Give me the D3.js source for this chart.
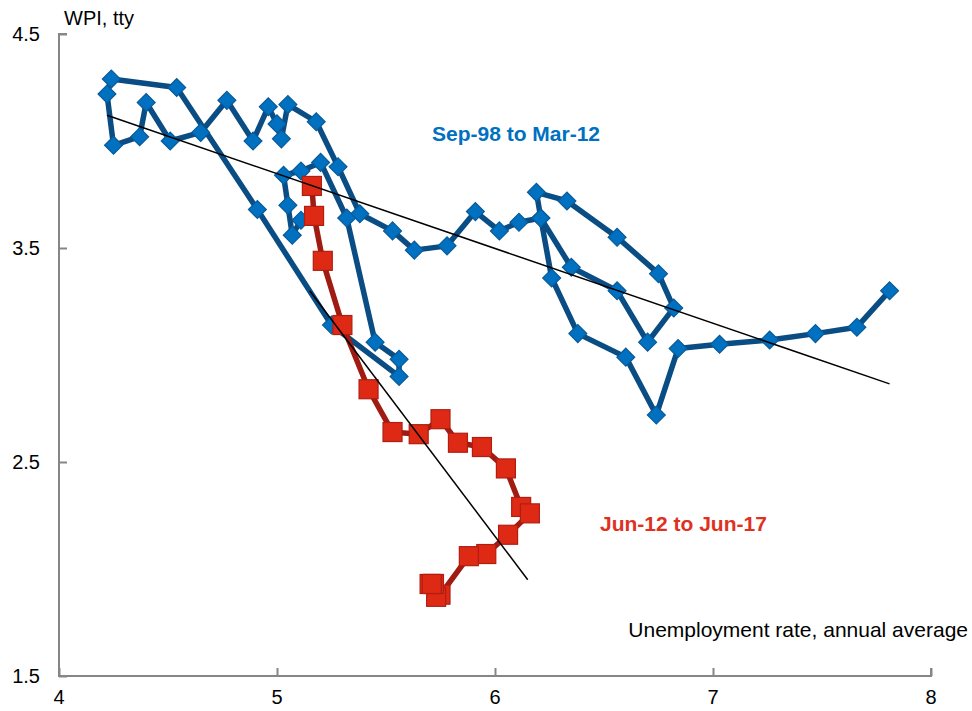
<!DOCTYPE html>
<html>
<head>
<meta charset="utf-8">
<script src="https://cdn.jsdelivr.net/npm/d3@7"></script>
<style>
  body { margin: 0; background: #fff; }
  text { font-family: "Liberation Sans", Arial, sans-serif; }
</style>
</head>
<body>
<script>
// blue series, Sep-98 to Mar-12 (quarterly)
var blueUnemp = [7.81, 7.66, 7.47, 7.26, 7.03, 6.84, 6.74, 6.60, 6.38, 6.26, 6.21,
  6.35, 6.56, 6.70, 6.82, 6.75, 6.56, 6.33, 6.19, 6.21,
  6.11, 6.02, 5.91, 5.78, 5.63, 5.53, 5.38,
  5.28, 5.18, 5.05, 5.02, 5.00, 4.96, 4.89, 4.77, 4.65, 4.51, 4.40, 4.37, 4.25, 4.22, 4.24, 4.54,
  4.91, 5.25, 5.56, 5.56, 5.45, 5.32, 5.20, 5.11, 5.03, 5.05, 5.07, 5.11];
var blueWpi = [3.30, 3.13, 3.10, 3.07, 3.05, 3.03, 2.72, 2.99, 3.10, 3.36, 3.64,
  3.41, 3.30, 3.06, 3.22, 3.38, 3.55, 3.72, 3.76, 3.64,
  3.62, 3.58, 3.67, 3.51, 3.49, 3.58, 3.66,
  3.88, 4.09, 4.17, 4.01, 4.08, 4.16, 4.00, 4.19, 4.04, 4.00, 4.18, 4.02, 3.98, 4.22, 4.29, 4.25,
  3.68, 3.14, 2.90, 2.98, 3.06, 3.64, 3.90, 3.86, 3.84, 3.70, 3.56, 3.63];

// red series, Jun-12 to Jun-17
var redUnemp = [5.16, 5.17, 5.21, 5.30, 5.42, 5.53, 5.65, 5.75, 5.83, 5.94, 6.05,
  6.12, 6.16, 6.06, 5.96, 5.88, 5.75, 5.73, 5.72, 5.70, 5.71];
var redWpi = [3.79, 3.65, 3.44, 3.14, 2.84, 2.64, 2.63, 2.70, 2.59, 2.57, 2.47,
  2.29, 2.26, 2.16, 2.07, 2.06, 1.88, 1.87, 1.93, 1.93, 1.93];

// trend lines [x0, y0, x1, y1]
var trendBlue = [4.22, 4.12, 7.81, 2.865];
var trendRed = [5.15, 3.30, 6.15, 1.95];

var xTicks = [4, 5, 6, 7, 8];
var yTicks = [1.5, 2.5, 3.5, 4.5];

var width = 972, height = 711;
var mLeft = 59, mRight = 931, mTop = 34, mBottom = 676;

var svg = d3.select('body').append('svg')
  .attr('width', width)
  .attr('height', height);

var x = d3.scaleLinear().domain([4, 8]).range([mLeft, mRight]);
var y = d3.scaleLinear().domain([1.5, 4.5]).range([mBottom, mTop]);

// axes: ticks point inwards, grey frame on left and bottom only
svg.append('g')
  .attr('transform', 'translate(0,' + mBottom + ')')
  .call(d3.axisTop(x).tickValues(xTicks).tickSize(8).tickFormat(''));
svg.append('g')
  .attr('transform', 'translate(' + mLeft + ',0)')
  .call(d3.axisRight(y).tickValues(yTicks).tickSize(8).tickFormat(''));
svg.selectAll('.domain').remove();
svg.selectAll('.tick line').attr('stroke', '#868686').attr('stroke-width', 2);
svg.append('path')
  .attr('d', 'M' + (mLeft + 8) + ',' + mTop + 'H' + mLeft + 'V' + mBottom + 'H' + mRight + 'V' + (mBottom - 8))
  .attr('fill', 'none')
  .attr('stroke', '#868686')
  .attr('stroke-width', 2);

svg.selectAll('.xlab').data(xTicks).enter().append('text')
  .attr('x', function(d) { return x(d); })
  .attr('y', 704)
  .attr('text-anchor', 'middle')
  .style('font-size', '20px')
  .text(function(d) { return d; });
svg.selectAll('.ylab').data(yTicks).enter().append('text')
  .attr('x', 40)
  .attr('y', function(d) { return y(d) + 7; })
  .attr('text-anchor', 'end')
  .style('font-size', '20px')
  .text(function(d) { return d.toFixed(1); });

svg.append('text').attr('x', 64).attr('y', 25).style('font-size', '20px').text('WPI, tty');
svg.append('text').attr('x', 968).attr('y', 637).attr('text-anchor', 'end')
  .style('font-size', '21px').text('Unemployment rate, annual average');

var blue = blueUnemp.map(function(d, i) { return [d, blueWpi[i]]; });
var red = redUnemp.map(function(d, i) { return [d, redWpi[i]]; });

var line = d3.line()
  .x(function(d) { return x(d[0]); })
  .y(function(d) { return y(d[1]); });

svg.append('path').datum(blue)
  .attr('d', line)
  .attr('fill', 'none')
  .attr('stroke', '#0a4d84')
  .attr('stroke-width', 5.5)
  .attr('stroke-linejoin', 'round');

svg.selectAll('.dia').data(blue).enter().append('path')
  .attr('d', d3.symbol().type(d3.symbolSquare).size(160))
  .attr('transform', function(d) { return 'translate(' + x(d[0]) + ',' + y(d[1]) + ') rotate(45)'; })
  .attr('fill', '#0070c0')
  .attr('stroke', '#0a5a98')
  .attr('stroke-width', 1.2);

svg.append('path').datum(red)
  .attr('d', line)
  .attr('fill', 'none')
  .attr('stroke', '#a01b12')
  .attr('stroke-width', 5.5)
  .attr('stroke-linejoin', 'round');

svg.selectAll('.sq').data(red).enter().append('rect')
  .attr('x', function(d) { return x(d[0]) - 9.5; })
  .attr('y', function(d) { return y(d[1]) - 9.5; })
  .attr('width', 19)
  .attr('height', 19)
  .attr('fill', '#de2a15')
  .attr('stroke', '#b01e12')
  .attr('stroke-width', 1.2);

[trendBlue, trendRed].forEach(function(t) {
  svg.append('line')
    .attr('x1', x(t[0])).attr('y1', y(t[1]))
    .attr('x2', x(t[2])).attr('y2', y(t[3]))
    .attr('stroke', '#000')
    .attr('stroke-width', 1.5);
});

svg.append('text').attr('x', 432).attr('y', 141)
  .style('font-size', '21px').style('font-weight', 'bold').attr('fill', '#0070c0')
  .text('Sep-98 to Mar-12');
svg.append('text').attr('x', 600).attr('y', 531)
  .style('font-size', '21px').style('font-weight', 'bold').attr('fill', '#e0301e')
  .text('Jun-12 to Jun-17');
</script>
</body>
</html>
